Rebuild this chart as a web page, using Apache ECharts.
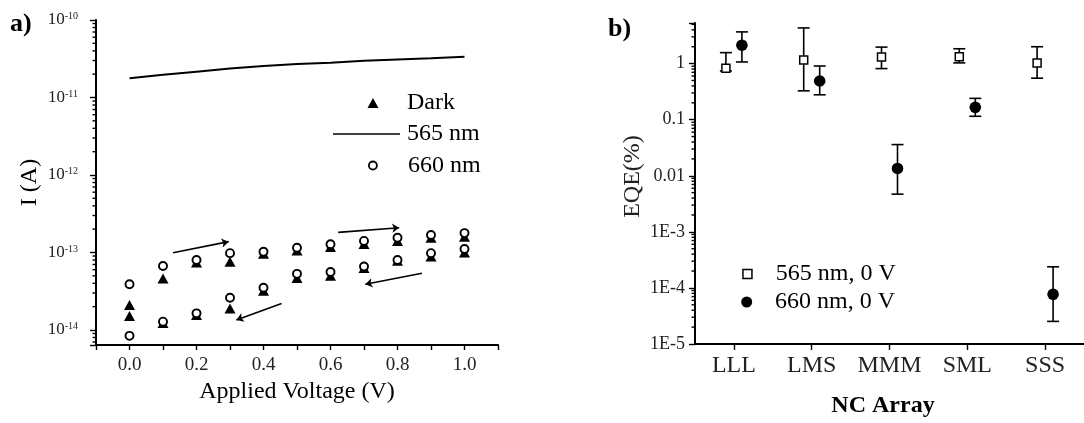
<!DOCTYPE html>
<html>
<head>
<meta charset="utf-8">
<script src="https://cdn.jsdelivr.net/npm/echarts@6/dist/echarts.min.js"></script>
<style>
  html, body { margin: 0; padding: 0; background: #fff; }
  #chart { width: 1084px; height: 423px; }
</style>
</head>
<body>
<div id="chart"></div>
<script>
// ---------- (a) current vs applied voltage, forward and reverse sweep ----------
const voltages      = [0.0, 0.1, 0.2, 0.3, 0.4, 0.5, 0.6, 0.7, 0.8, 0.9, 1.0];
const darkForward   = [2.1e-14, 4.6e-14, 7.4e-14, 7.6e-14, 9.6e-14, 1.06e-13, 1.18e-13, 1.29e-13, 1.41e-13, 1.55e-13, 1.6e-13];
const darkReverse   = [1.52e-14, 1.23e-14, 1.56e-14, 1.9e-14, 3.2e-14, 4.7e-14, 5.0e-14, 6.3e-14, 7.8e-14, 8.9e-14, 1.0e-13];
const red660Forward = [3.9e-14, 6.7e-14, 8.0e-14, 9.8e-14, 1.02e-13, 1.15e-13, 1.28e-13, 1.41e-13, 1.55e-13, 1.68e-13, 1.78e-13];
const red660Reverse = [8.4e-15, 1.28e-14, 1.64e-14, 2.6e-14, 3.5e-14, 5.3e-14, 5.6e-14, 6.6e-14, 8.0e-14, 9.8e-14, 1.11e-13];
const green565      = [1.77e-11, 1.96e-11, 2.15e-11, 2.36e-11, 2.55e-11, 2.7e-11, 2.8e-11, 2.98e-11, 3.1e-11, 3.2e-11, 3.36e-11];
// sweep-direction arrows: [tail, head] in (V, A)
const sweepArrows = [
  [[0.13, 9.9e-14], [0.296, 1.38e-13]],
  [[0.623, 1.82e-13], [0.805, 2.09e-13]],
  [[0.873, 5.4e-14], [0.704, 3.9e-14]],
  [[0.454, 2.2e-14], [0.319, 1.35e-14]]
];
const voltageTicks = ['0.0', '0.2', '0.4', '0.6', '0.8', '1.0'];

// ---------- (b) EQE per nanocrystal array ----------
const ncArrays   = ['LLL', 'LMS', 'MMM', 'SML', 'SSS'];
const eqe565     = [0.83, 1.16, 1.31, 1.33, 1.03];
const eqe565Low  = [0.74, 0.327, 0.815, 1.03, 0.55];
const eqe565High = [1.57, 4.33, 1.97, 1.84, 2.0];
const eqe660     = [2.13, 0.49, 0.0135, 0.166, 7.7e-5];
const eqe660Low  = [1.07, 0.278, 0.0047, 0.115, 2.53e-5];
const eqe660High = [3.68, 0.907, 0.036, 0.24, 2.38e-4];

const SERIF = "'Liberation Serif', 'Times New Roman', serif";
const INK = '#000';
const LABEL = '#222';

const pairs = (xs, ys) => xs.map((x, i) => [x, ys[i]]);

// 2..9 x 10^n positions between the axis ends
function logMinorValues(min, max) {
  const out = [];
  for (let e = Math.floor(Math.log10(min)); e <= Math.ceil(Math.log10(max)); e++) {
    for (let k = 2; k <= 9; k++) {
      const v = k * Math.pow(10, e);
      if (v > min * 1.0001 && v < max * 0.9999) out.push(v);
    }
  }
  return out;
}

function minorTickSeries(xIdx, yIdx, min, max, len) {
  return {
    type: 'custom', xAxisIndex: xIdx, yAxisIndex: yIdx, silent: true, clip: false,
    data: logMinorValues(min, max).map(v => [0, v]),
    encode: { x: 0, y: 1 },
    renderItem(params, api) {
      const cs = params.coordSys;
      const y = api.coord([api.value(0), api.value(1)])[1];
      return { type: 'line', shape: { x1: cs.x - len, y1: y, x2: cs.x, y2: y },
               style: { stroke: INK, lineWidth: 1.4 } };
    }
  };
}

function isDecade(v) {
  const e = Math.log10(v);
  return Math.abs(e - Math.round(e)) < 1e-6;
}

function eqeSeries(name, values, lows, highs, shift, marker) {
  return {
    type: 'custom', name, xAxisIndex: 1, yAxisIndex: 1, clip: false,
    data: values.map((v, i) => [i, v, lows[i], highs[i]]),
    encode: { x: 0, y: 1 },
    renderItem(params, api) {
      const c = api.coord([api.value(0), api.value(1)]);
      const lo = api.coord([api.value(0), api.value(2)])[1];
      const hi = api.coord([api.value(0), api.value(3)])[1];
      const x = c[0] + shift;
      const cap = 6;
      const st = { stroke: INK, lineWidth: 1.6 };
      const children = [
        { type: 'line', shape: { x1: x, y1: lo, x2: x, y2: hi }, style: st },
        { type: 'line', shape: { x1: x - cap, y1: hi, x2: x + cap, y2: hi }, style: st },
        { type: 'line', shape: { x1: x - cap, y1: lo, x2: x + cap, y2: lo }, style: st }
      ];
      if (marker === 'square') {
        children.push({ type: 'rect', shape: { x: x - 4, y: c[1] - 4, width: 8, height: 8 },
                        style: { fill: '#fff', stroke: INK, lineWidth: 1.5 } });
      } else {
        children.push({ type: 'circle', shape: { cx: x, cy: c[1], r: 5.8 }, style: { fill: INK } });
      }
      return { type: 'group', children };
    }
  };
}

const A_MIN = 6.4e-15, A_MAX = 1e-10;
const B_MIN = 1e-5, B_MAX = 5.3;

const axisLineStyle = { onZero: false, lineStyle: { color: INK, width: 2 } };
const tickStyle = { lineStyle: { color: INK, width: 1.4 } };

// one legend entry: icon centred at (cx, cy), text starting at textX
function legendItem(name, icon, cx, cy, w, h, textX, itemStyle) {
  const d = { name, icon };
  if (itemStyle) d.itemStyle = itemStyle;
  const left = cx - w / 2;
  return {
    data: [d], orient: 'vertical', left, top: cy - 12, itemWidth: w, itemHeight: h,
    padding: 0, selectedMode: false,
    textStyle: { fontFamily: SERIF, fontSize: 24, lineHeight: 24, color: INK,
                 padding: [0, 0, 0, Math.max(0, textX - (left + w + 5))] }
  };
}

const chart = echarts.init(document.getElementById('chart'), null, { renderer: 'canvas' });

chart.setOption({
  animation: false,
  backgroundColor: '#fff',
  graphic: [
    { type: 'text', left: 10, top: 11, style: { text: 'a)', font: 'bold 26px ' + SERIF, fill: INK } },
    { type: 'text', left: 608, top: 16, style: { text: 'b)', font: 'bold 26px ' + SERIF, fill: INK } }
  ],
  grid: [
    { left: 96, top: 20, width: 402, height: 325 },
    { left: 695, top: 23, width: 399, height: 324 }
  ],
  legend: [
    legendItem('Dark', 'triangle', 373, 103, 11, 10, 407, { color: INK }),
    legendItem('565 nm', 'rect', 366.5, 134, 67, 1.6, 407, { color: INK }),
    legendItem('660 nm', 'circle', 372, 165.5, 8, 8, 407, { color: '#fff', borderColor: INK, borderWidth: 1.8 }),
    legendItem('565 nm, 0 V', 'rect', 746.7, 274, 9, 9, 775, { color: '#fff', borderColor: INK, borderWidth: 1.5 }),
    legendItem('660 nm, 0 V', 'circle', 746.7, 302, 11, 11, 775, { color: INK })
  ],
  xAxis: [
    {
      type: 'value', gridIndex: 0, min: -0.1, max: 1.1, interval: 0.1,
      name: 'Applied Voltage (V)', nameLocation: 'middle', nameGap: 33,
      nameTextStyle: { fontFamily: SERIF, fontSize: 24, lineHeight: 24, color: INK },
      axisLine: axisLineStyle,
      axisTick: { show: true, length: 5, inside: false, ...tickStyle },
      splitLine: { show: false },
      axisLabel: {
        margin: 11, fontFamily: SERIF, fontSize: 19, lineHeight: 19, color: LABEL,
        formatter: v => {
          const t = Math.round(v * 10);
          const s = (t / 10).toFixed(1);
          return (t % 2 === 0 && voltageTicks.includes(s)) ? s : '';
        }
      }
    },
    {
      type: 'category', gridIndex: 1, data: ncArrays, boundaryGap: true,
      name: 'NC Array', nameLocation: 'middle', nameGap: 50,
      nameTextStyle: { fontFamily: SERIF, fontSize: 24, fontWeight: 'bold', lineHeight: 24, color: INK, padding: [0, 13, 0, 0] },
      axisLine: axisLineStyle,
      axisTick: { show: true, alignWithLabel: true, length: 6, ...tickStyle },
      splitLine: { show: false },
      axisLabel: { margin: 10, fontFamily: SERIF, fontSize: 24, lineHeight: 24, color: LABEL, interval: 0 }
    }
  ],
  yAxis: [
    {
      type: 'log', logBase: 10, gridIndex: 0, min: A_MIN, max: A_MAX,
      name: 'I (A)', nameLocation: 'middle', nameGap: 54,
      nameTextStyle: { fontFamily: SERIF, fontSize: 24, lineHeight: 24, color: INK },
      axisLine: { show: true, ...axisLineStyle },
      axisTick: { show: true, length: 6, ...tickStyle },
      splitLine: { show: false },
      axisLabel: {
        margin: 18, color: LABEL,
        formatter: v => isDecade(v) ? '{b|10}{s|' + Math.round(Math.log10(v)) + '}' : '',
        rich: {
          b: { fontFamily: SERIF, fontSize: 17, lineHeight: 17, color: LABEL },
          s: { fontFamily: SERIF, fontSize: 10, lineHeight: 10, color: LABEL, verticalAlign: 'top' }
        }
      }
    },
    {
      type: 'log', logBase: 10, gridIndex: 1, min: B_MIN, max: B_MAX,
      name: 'EQE(%)', nameLocation: 'middle', nameGap: 50,
      nameTextStyle: { fontFamily: SERIF, fontSize: 24, lineHeight: 24, color: LABEL, padding: [0, 0, 0, 14] },
      axisLine: { show: true, ...axisLineStyle },
      axisTick: { show: true, length: 6, ...tickStyle },
      splitLine: { show: false },
      axisLabel: {
        margin: 10, fontFamily: SERIF, fontSize: 18, color: LABEL,
        formatter: v => {
          if (!isDecade(v)) return '';
          const r = Math.round(Math.log10(v));
          if (r >= 0) return String(Math.pow(10, r));
          if (r >= -2) return '0.' + '0'.repeat(-r - 1) + '1';
          return '1E' + r;
        }
      }
    }
  ],
  series: [
    minorTickSeries(0, 0, A_MIN, A_MAX, 3.5),
    minorTickSeries(1, 1, B_MIN, B_MAX, 3.5),
    {
      name: '565 nm', type: 'line', xAxisIndex: 0, yAxisIndex: 0,
      data: pairs(voltages, green565), symbol: 'none',
      lineStyle: { color: INK, width: 2 }, itemStyle: { color: INK }
    },
    {
      name: 'Dark', type: 'scatter', xAxisIndex: 0, yAxisIndex: 0,
      data: pairs(voltages, darkForward).concat(pairs(voltages, darkReverse)),
      symbol: 'triangle', symbolSize: [11, 10], itemStyle: { color: INK, opacity: 1 }
    },
    {
      name: '660 nm', type: 'scatter', xAxisIndex: 0, yAxisIndex: 0,
      data: pairs(voltages, red660Forward).concat(pairs(voltages, red660Reverse)),
      symbol: 'circle', symbolSize: 8,
      itemStyle: { color: '#fff', borderColor: INK, borderWidth: 1.9, opacity: 1 }
    },
    {
      type: 'lines', coordinateSystem: 'cartesian2d', xAxisIndex: 0, yAxisIndex: 0, silent: true,
      symbol: ['none', 'arrow'], symbolSize: 7,
      lineStyle: { color: INK, width: 1.6, opacity: 1 },
      data: sweepArrows.map(c => ({ coords: c }))
    },
    eqeSeries('565 nm, 0 V', eqe565, eqe565Low, eqe565High, -8, 'square'),
    eqeSeries('660 nm, 0 V', eqe660, eqe660Low, eqe660High, 8, 'circle')
  ]
});
</script>
</body>
</html>
